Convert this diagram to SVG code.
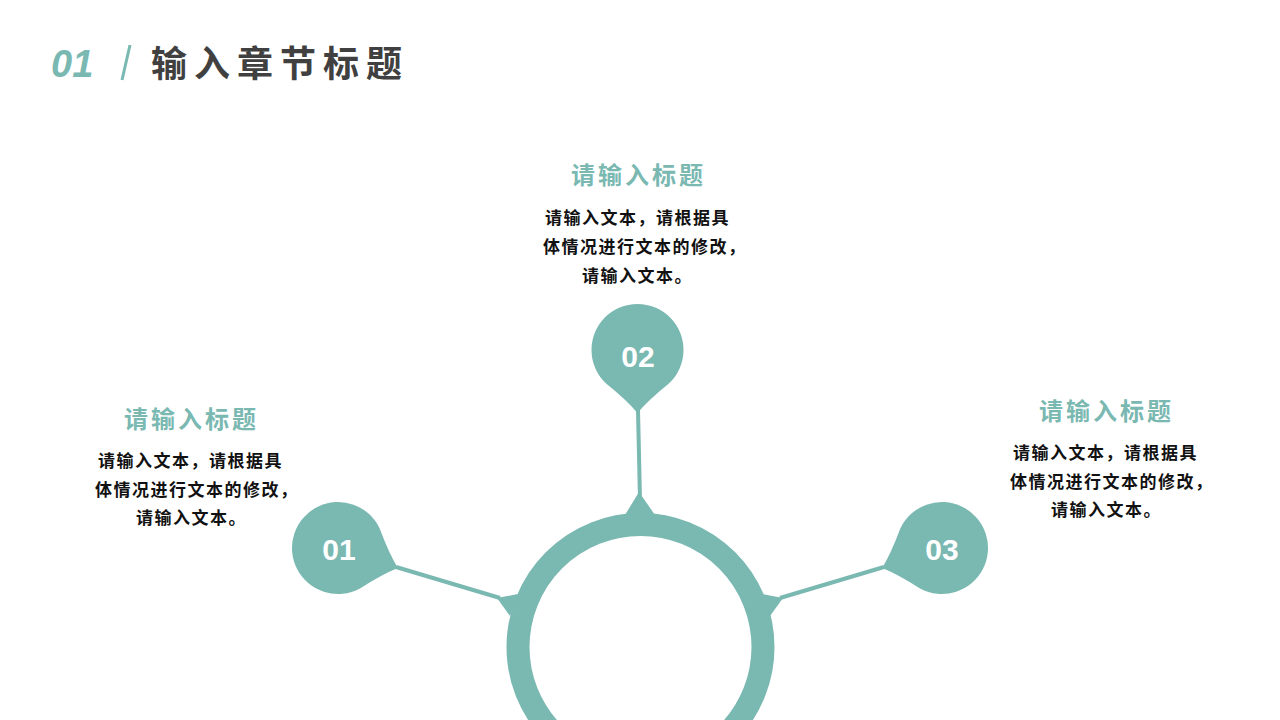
<svg xmlns="http://www.w3.org/2000/svg" width="1280" height="720" viewBox="0 0 1280 720">
<defs>
<style>
.teal{fill:#7AB8B2}
.cjk{font-family:"Noto Sans CJK SC","Noto Sans",sans-serif;font-weight:700}
.sub{fill:#7AB8B2;font-size:24px;letter-spacing:3px}
.body{fill:#111;font-size:17px;letter-spacing:1.5px}
.num{fill:#fff;font-family:"Liberation Sans","DejaVu Sans",sans-serif;font-weight:700;font-size:30px;text-anchor:middle}
.line{stroke:#7AB8B2;stroke-width:4;fill:none}
</style>
<path id="pin" d="M -31.4 33.6 A 46 46 0 1 1 31.4 33.6 Q 11 50 0 63 Q -11 50 -31.4 33.6 Z"/>
</defs>
<rect width="1280" height="720" fill="#fff"/>
<g id="header">
<text x="51" y="77" fill="#7AB8B2" font-family="Liberation Sans, sans-serif" font-weight="700" font-style="italic" font-size="38">01</text>
<line x1="130" y1="45" x2="122" y2="80" stroke="#7AB8B2" stroke-width="3"/>
<text x="151" y="77" class="cjk" fill="#404040" font-size="36" letter-spacing="7">输入章节标题</text>
</g>
<g id="connectors">
<line class="line" x1="638" y1="410" x2="640" y2="500"/>
<line class="line" x1="396" y1="567" x2="500" y2="598"/>
<line class="line" x1="884" y1="567" x2="780" y2="598"/>
</g>
<g id="hub">
<circle cx="640.5" cy="647" r="122.5" fill="none" stroke="#7AB8B2" stroke-width="23"/>
<polygon class="teal" points="625,515 639,492 655,515"/>
<polygon class="teal" points="518,594 497,598 510,616"/>
<polygon class="teal" points="762,594 783,598 770,616"/>
</g>
<g id="node1">
<use href="#pin" class="teal" transform="translate(338,548) rotate(-71.6)"/>
<text x="339" y="560" class="num">01</text>
</g>
<g id="node2">
<use href="#pin" class="teal" transform="translate(637.5,350)"/>
<text x="638" y="367" class="num">02</text>
</g>
<g id="node3">
<use href="#pin" class="teal" transform="translate(942,548) rotate(71.6)"/>
<text x="942" y="560" class="num">03</text>
</g>
<g id="text2" class="cjk">
<text x="571" y="184" class="sub">请输入标题</text>
<text x="545" y="224" class="body">请输入文本，请根据具</text>
<text x="543" y="253" class="body">体情况进行文本的修改，</text>
<text x="582" y="282" class="body">请输入文本。</text>
</g>
<g id="text1" class="cjk">
<text x="124" y="428" class="sub">请输入标题</text>
<text x="98" y="466.5" class="body">请输入文本，请根据具</text>
<text x="95" y="495.5" class="body">体情况进行文本的修改，</text>
<text x="136" y="524" class="body">请输入文本。</text>
</g>
<g id="text3" class="cjk">
<text x="1039" y="420" class="sub">请输入标题</text>
<text x="1013" y="458.5" class="body">请输入文本，请根据具</text>
<text x="1010" y="487.5" class="body">体情况进行文本的修改，</text>
<text x="1051" y="516" class="body">请输入文本。</text>
</g>
</svg>
